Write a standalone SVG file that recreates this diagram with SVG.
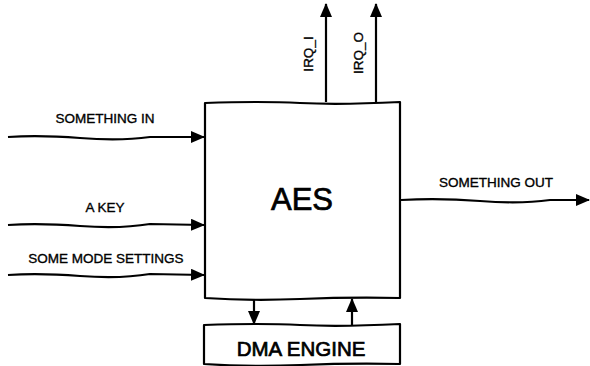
<svg xmlns="http://www.w3.org/2000/svg" width="590" height="366" viewBox="0 0 590 366">
<style>
.box{fill:#fff;stroke:#000;stroke-width:2.2;stroke-linejoin:round}
.ln{fill:none;stroke:#000;stroke-width:2.2;stroke-linecap:butt}
.lbl{font-family:"Liberation Sans",Arial,sans-serif;font-size:13.5px;fill:#000;stroke:#000;stroke-width:0.35;text-anchor:middle}
.big{font-family:"Liberation Sans",Arial,sans-serif;fill:#000;stroke:#000;stroke-width:0.7;text-anchor:middle}
</style>
<defs>
<marker id="ah" viewBox="0 0 14 12" refX="13" refY="6" markerWidth="14" markerHeight="12" markerUnits="userSpaceOnUse" orient="auto">
<path d="M0,0 L14,6 L0,12 Z" fill="#000"/>
</marker>
</defs>
<rect width="590" height="366" fill="#fff"/>
<g id="connectors">
<path class="ln" d="M8,137 Q40,135 80,138 T150,137 L204,137" marker-end="url(#ah)"/>
<path class="ln" d="M8,225 Q40,223 80,226 T150,224 L204,225" marker-end="url(#ah)"/>
<path class="ln" d="M8,275 Q40,273 80,276 T150,274 L204,275" marker-end="url(#ah)"/>
<path class="ln" d="M401,200 Q440,198 480,201 T550,200 L589,200" marker-end="url(#ah)"/>
<path class="ln" d="M326,102 L326,60 L326,4" marker-end="url(#ah)"/>
<path class="ln" d="M376,102 L376,60 L376,4" marker-end="url(#ah)"/>
<path class="ln" d="M254,298 L254,324" marker-end="url(#ah)"/>
<path class="ln" d="M352,325 L352,299" marker-end="url(#ah)"/>
<text class="lbl" x="105" y="123">SOMETHING IN</text>
<text class="lbl" x="105" y="212">A KEY</text>
<text class="lbl" x="106" y="263">SOME MODE SETTINGS</text>
<text class="lbl" x="496" y="187">SOMETHING OUT</text>
<text class="lbl" transform="translate(313,54) rotate(-90)">IRQ_I</text>
<text class="lbl" transform="translate(363,53) rotate(-90)">IRQ_O</text>
</g>
<g id="aes">
<path class="box" d="M205,103 Q260,101 300,103 T400,102 L400,298 Q350,297 300,299 T205,298 Z"/>
<text class="big" x="302" y="210" font-size="31">AES</text>
</g>
<g id="dma">
<path class="box" d="M204,325 Q260,323 300,325 T400,324 L400,364 Q350,363 300,365 T204,364 Z"/>
<text class="big" x="301" y="356" font-size="20.5">DMA ENGINE</text>
</g>
</svg>
